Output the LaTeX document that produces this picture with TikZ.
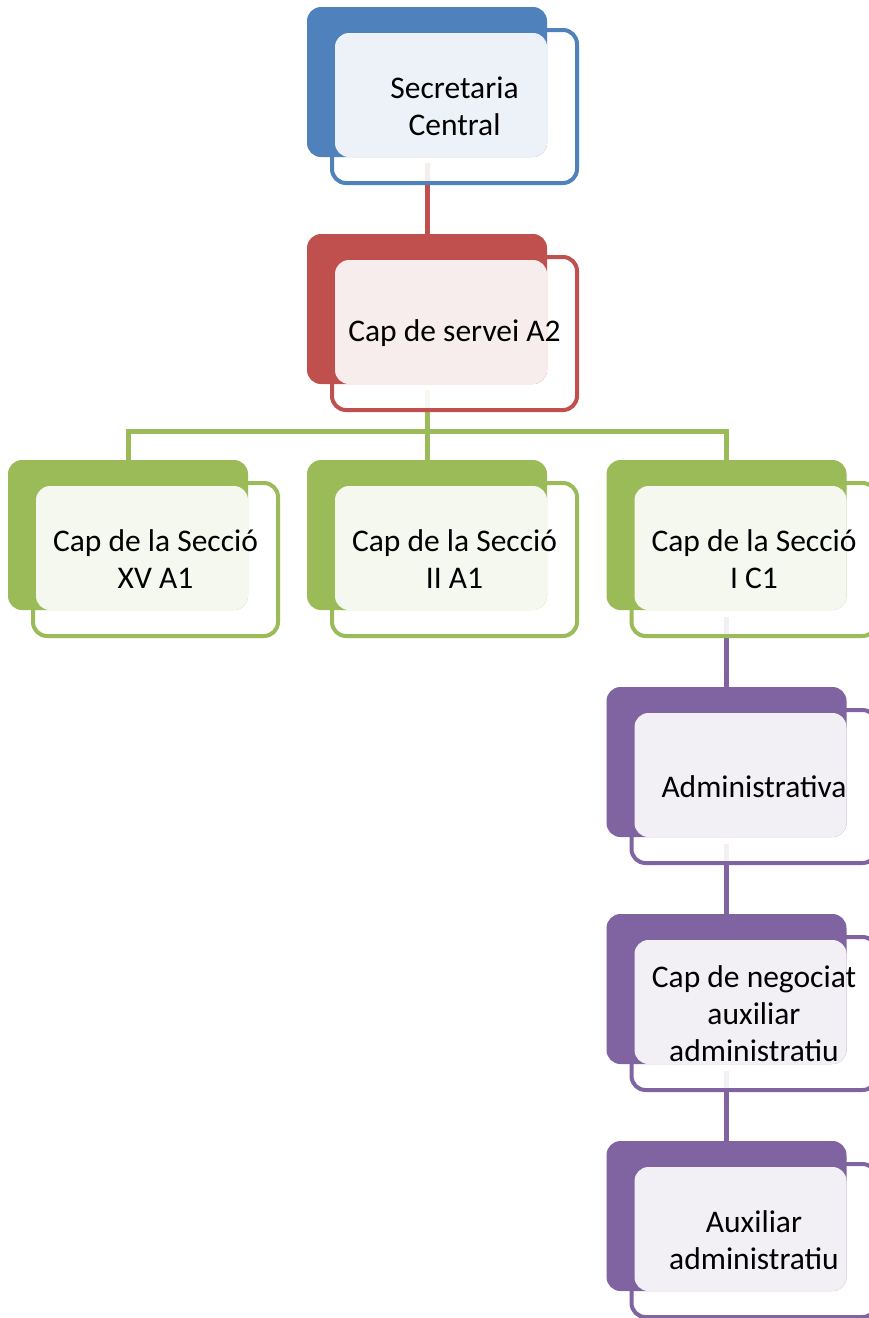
\documentclass[tikz,border=0pt]{standalone}
\usepackage{fontspec}
\setmainfont{Carlito}
\usetikzlibrary{calc}
\pgfdeclarelayer{bg}
\pgfsetlayers{bg,main}
\definecolor{cblue}{HTML}{4F81BD}
\definecolor{cred}{HTML}{C0504D}
\definecolor{cgreen}{HTML}{9BBB59}
\definecolor{cpurple}{HTML}{8064A2}
\tikzset{
  outlinebox/.style={draw=#1, line width=4pt, fill=white, fill opacity=0.9, draw opacity=1,
    rounded corners=14pt, minimum width=245pt, minimum height=153pt, inner sep=0pt},
  backbox/.style={fill=#1, rounded corners=14pt, minimum width=240pt, minimum height=150pt, inner sep=0pt},
  lightbox/.style={fill=white, fill opacity=0.9, rounded corners=14pt, minimum width=212pt, minimum height=124pt, inner sep=0pt},
  txtnode/.style={font=\fontsize{31.5}{37}\selectfont, align=center, text=black, inner sep=0pt},
  conn/.style={draw=#1, line width=5pt}
}
\newcommand\orgbox[5]{%
  \node[outlinebox=#4] (o#1) at (#2,#3) {};
  \node[backbox=#4] (b#1) at ($(o#1.center)+(-27.5,-24.5)$) {};
  \node[lightbox] (l#1) at ($(o#1.center)+(-13.5,-11.5)$) {};
  \node[txtnode] (t#1) at (o#1.center) {#5};
}
\begin{document}
\begin{tikzpicture}[x=1pt,y=-1pt]
\useasboundingbox (0,0) rectangle (869,1318);
\orgbox{1}{454.5}{106.5}{cblue}{Secretaria\\Central}
\orgbox{2}{454.5}{333.5}{cred}{Cap de servei A2}
\orgbox{3}{155.5}{559.5}{cgreen}{Cap de la Secció\\XV A1}
\orgbox{4}{454.5}{559.5}{cgreen}{Cap de la Secció\\II A1}
\orgbox{5}{754}{559.5}{cgreen}{Cap de la Secció\\I C1}
\orgbox{6}{754}{786.5}{cpurple}{Administrativa}
\orgbox{7}{754}{1013.5}{cpurple}{Cap de negociat\\auxiliar\\administratiu}
\orgbox{8}{754}{1240.5}{cpurple}{Auxiliar\\administratiu}
\begin{pgfonlayer}{bg}
  \draw[conn=cred] ([yshift=-6pt]b1.south) -- (b2.north);
  \draw[conn=cgreen] ([yshift=-6pt]b2.south) -- (b4.north);
  \draw[conn=cgreen] (b3.north) -- ++(0,-28) -| (b5.north);
  \draw[conn=cpurple] ([yshift=-7pt]b5.south) -- (b6.north);
  \draw[conn=cpurple] ([yshift=-7pt]b6.south) -- (b7.north);
  \draw[conn=cpurple] ([yshift=-7pt]b7.south) -- (b8.north);
\end{pgfonlayer}
\end{tikzpicture}
\end{document}
